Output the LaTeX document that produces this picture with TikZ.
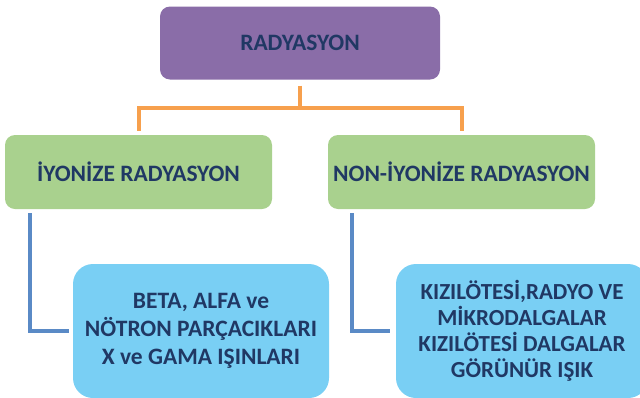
\documentclass[tikz,border=0pt]{standalone}
\usepackage{fontspec}
\setmainfont{Carlito}
\definecolor{cpurple}{HTML}{8A6DA8}
\definecolor{cgreen}{HTML}{A9D18E}
\definecolor{cblue}{HTML}{79CFF4}
\definecolor{corange}{HTML}{F7A04D}
\definecolor{cbline}{HTML}{5A8AC6}
\definecolor{ctext}{HTML}{203864}
\begin{document}
\begin{tikzpicture}[x=1pt,y=-1pt,
  box/.style={rounded corners=10pt,inner sep=0pt,align=center,text=ctext,
    font=\fontsize{23.5}{28}\selectfont\bfseries},
  topbox/.style={box,fill=cpurple,minimum width=280pt,minimum height=73pt},
  greenbox/.style={box,fill=cgreen,minimum width=267pt,minimum height=74pt},
  bluebox/.style={box,fill=cblue,rounded corners=20pt,minimum height=134pt},
  oline/.style={draw=corange,line width=4pt},
  bline/.style={draw=cbline,line width=4pt}]
\clip (0,0) rectangle (640,397);
\useasboundingbox (0,0) rectangle (640,397);
\node[topbox] (top) at (300,43) {RADYASYON};
\node[greenbox] (gl) at (138.5,172) {İYONİZE RADYASYON};
\node[greenbox] (gr) at (461.5,172) {NON-İYONİZE RADYASYON};
\node[bluebox,minimum width=256pt] (bl) at (201,331) {BETA, ALFA ve\\NÖTRON PARÇACIKLARI\\X ve GAMA IŞINLARI};
\node[bluebox,minimum width=252pt,font=\fontsize{23}{26}\selectfont\bfseries] (br) at (522,331) {KIZILÖTESİ,RADYO VE\\MİKRODALGALAR\\KIZILÖTESİ DALGALAR\\GÖRÜNÜR IŞIK};
\coordinate (jn) at (300,108);
\draw[oline] ([yshift=-6pt]top.south) -- (jn);
\draw[oline] (jn) -| ([yshift=4pt]gl.north);
\draw[oline] (jn) -| ([yshift=4pt]gr.north);
\draw[bline] ([xshift=25.5pt,yshift=-4pt]gl.south west) |- ([xshift=-4pt]bl.west);
\draw[bline] ([xshift=24pt,yshift=-4pt]gr.south west) |- ([xshift=-6pt]br.west);
\end{tikzpicture}
\end{document}
